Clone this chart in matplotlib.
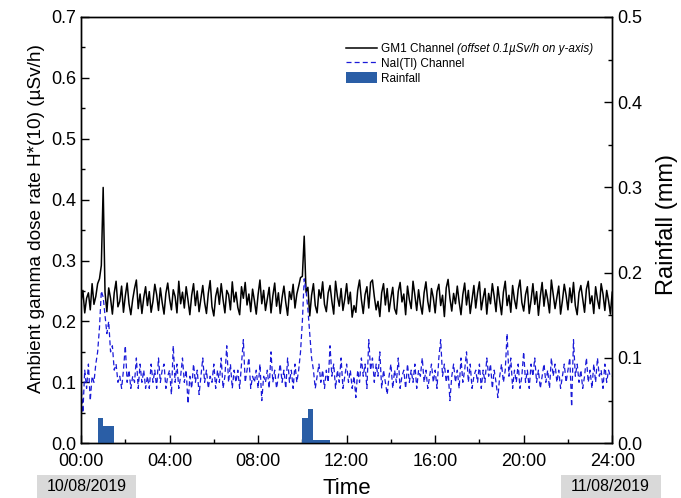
import numpy as np
import matplotlib
matplotlib.use('Agg')
import matplotlib.pyplot as plt
from matplotlib.patches import Rectangle
from matplotlib.ticker import MultipleLocator, FormatStrFormatter

plt.rcParams['font.family'] = ['Liberation Sans', 'DejaVu Sans']

# 5-minute readings, one row per hour (GM1 already offset by 0.1 uSv/h)
gm1 = [
    0.232, 0.251, 0.214, 0.238, 0.247, 0.219, 0.262, 0.228, 0.241, 0.262, 0.270, 0.292,
    0.420, 0.248, 0.216, 0.255, 0.238, 0.212, 0.247, 0.266, 0.224, 0.233, 0.258, 0.215,
    0.242, 0.263, 0.229, 0.211, 0.236, 0.254, 0.268, 0.221, 0.245, 0.213, 0.239, 0.257,
    0.226, 0.249, 0.215, 0.233, 0.261, 0.244, 0.218, 0.255, 0.231, 0.212, 0.246, 0.263,
    0.237, 0.219, 0.252, 0.241, 0.214, 0.266, 0.229, 0.248, 0.222, 0.257, 0.235, 0.211,
    0.243, 0.262, 0.226, 0.250, 0.216, 0.238, 0.259, 0.231, 0.213, 0.246, 0.267, 0.224,
    0.209, 0.241, 0.255, 0.228, 0.262, 0.236, 0.214, 0.251, 0.244, 0.219, 0.265, 0.232,
    0.248, 0.223, 0.211, 0.257, 0.238, 0.264, 0.227, 0.245, 0.216, 0.253, 0.234, 0.212,
    0.244, 0.268, 0.229, 0.251, 0.218, 0.237, 0.256, 0.214, 0.242, 0.263, 0.225, 0.247,
    0.213, 0.239, 0.258, 0.231, 0.210, 0.249, 0.236, 0.261, 0.222, 0.245, 0.258, 0.272,
    0.274, 0.340, 0.248, 0.256, 0.209, 0.243, 0.262, 0.226, 0.214, 0.252, 0.238, 0.265,
    0.228, 0.216, 0.247, 0.259, 0.233, 0.212, 0.266, 0.241, 0.225, 0.254, 0.218, 0.237,
    0.262, 0.229, 0.248, 0.207, 0.226, 0.215, 0.251, 0.268, 0.236, 0.213, 0.244, 0.257,
    0.222, 0.264, 0.268, 0.241, 0.219, 0.233, 0.208, 0.247, 0.262, 0.227, 0.254, 0.216,
    0.238, 0.256, 0.221, 0.212, 0.249, 0.264, 0.232, 0.245, 0.211, 0.258, 0.236, 0.221,
    0.266, 0.243, 0.218, 0.252, 0.228, 0.212, 0.247, 0.265, 0.233, 0.216, 0.254, 0.239,
    0.214, 0.249, 0.261, 0.226, 0.243, 0.208, 0.255, 0.269, 0.238, 0.217, 0.246, 0.229,
    0.258, 0.232, 0.211, 0.244, 0.263, 0.227, 0.251, 0.213, 0.236, 0.259, 0.222, 0.247,
    0.265, 0.219, 0.238, 0.254, 0.212, 0.246, 0.229, 0.262, 0.241, 0.216, 0.257, 0.233,
    0.211, 0.248, 0.266, 0.226, 0.243, 0.215, 0.259, 0.236, 0.221, 0.252, 0.268, 0.231,
    0.217, 0.244, 0.257, 0.213, 0.235, 0.262, 0.228, 0.249, 0.210, 0.241, 0.264, 0.225,
    0.252, 0.236, 0.214, 0.268, 0.245, 0.221, 0.239, 0.258, 0.212, 0.234, 0.261, 0.243,
    0.219, 0.255, 0.231, 0.264, 0.226, 0.211, 0.247, 0.259, 0.237, 0.215, 0.253, 0.266,
    0.229, 0.242, 0.213, 0.257, 0.236, 0.221, 0.262, 0.245, 0.218, 0.251, 0.234, 0.212,
    0.248,
]

nai = [
    0.100, 0.050, 0.120, 0.090, 0.130, 0.070, 0.110, 0.100, 0.130, 0.150, 0.190, 0.250,
    0.240, 0.210, 0.180, 0.200, 0.150, 0.160, 0.120, 0.130, 0.100, 0.110, 0.090, 0.120,
    0.160, 0.100, 0.120, 0.090, 0.110, 0.100, 0.140, 0.090, 0.130, 0.100, 0.120, 0.090,
    0.110, 0.090, 0.130, 0.100, 0.120, 0.090, 0.140, 0.100, 0.120, 0.130, 0.090, 0.110,
    0.120, 0.080, 0.160, 0.100, 0.130, 0.090, 0.110, 0.140, 0.100, 0.120, 0.065, 0.110,
    0.090, 0.130, 0.100, 0.120, 0.080, 0.110, 0.140, 0.100, 0.120, 0.090, 0.110, 0.100,
    0.130, 0.090, 0.120, 0.100, 0.140, 0.090, 0.110, 0.160, 0.100, 0.130, 0.090, 0.120,
    0.100, 0.120, 0.090, 0.130, 0.170, 0.100, 0.120, 0.140, 0.090, 0.110, 0.100, 0.120,
    0.090, 0.130, 0.070, 0.110, 0.100, 0.120, 0.090, 0.150, 0.100, 0.120, 0.090, 0.110,
    0.130, 0.100, 0.120, 0.090, 0.140, 0.100, 0.120, 0.090, 0.130, 0.100, 0.120, 0.150,
    0.200, 0.270, 0.250, 0.220, 0.180, 0.140, 0.120, 0.090, 0.110, 0.130, 0.100, 0.120,
    0.090, 0.120, 0.100, 0.160, 0.110, 0.130, 0.090, 0.120, 0.100, 0.140, 0.090, 0.110,
    0.130, 0.100, 0.120, 0.090, 0.110, 0.075, 0.120, 0.100, 0.140, 0.110, 0.130, 0.090,
    0.170, 0.120, 0.140, 0.100, 0.130, 0.110, 0.150, 0.090, 0.120, 0.100, 0.080, 0.110,
    0.130, 0.090, 0.120, 0.100, 0.140, 0.090, 0.110, 0.120, 0.090, 0.130, 0.100, 0.120,
    0.100, 0.130, 0.090, 0.120, 0.110, 0.140, 0.100, 0.120, 0.090, 0.110, 0.130, 0.100,
    0.120, 0.090, 0.140, 0.170, 0.110, 0.130, 0.100, 0.120, 0.070, 0.110, 0.130, 0.100,
    0.120, 0.090, 0.140, 0.100, 0.120, 0.150, 0.100, 0.130, 0.090, 0.110, 0.120, 0.100,
    0.130, 0.090, 0.120, 0.100, 0.140, 0.110, 0.130, 0.090, 0.120, 0.100, 0.075, 0.110,
    0.130, 0.100, 0.120, 0.180, 0.110, 0.140, 0.090, 0.120, 0.100, 0.130, 0.090, 0.110,
    0.150, 0.100, 0.120, 0.090, 0.130, 0.110, 0.140, 0.100, 0.120, 0.090, 0.110, 0.130,
    0.100, 0.120, 0.090, 0.140, 0.110, 0.130, 0.100, 0.120, 0.090, 0.110, 0.130, 0.100,
    0.120, 0.140, 0.060, 0.170, 0.110, 0.130, 0.100, 0.120, 0.090, 0.110, 0.140, 0.100,
    0.120, 0.090, 0.130, 0.100, 0.140, 0.110, 0.120, 0.090, 0.130, 0.100, 0.120, 0.110,
    0.110,
]

# rainfall per 15-minute interval (start hour, mm)
rain_start = [0.75, 1.0, 1.25, 10.0, 10.25, 10.5, 10.75, 11.0]
rain_mm = [0.030, 0.020, 0.020, 0.030, 0.040, 0.004, 0.004, 0.004]
rain_width = 0.25

dates = ['10/08/2019', '11/08/2019']


def main():
    hours = np.arange(len(gm1)) * 5.0 / 60.0

    fig = plt.figure(figsize=(6.81, 4.98), dpi=100)
    ax = fig.add_axes([0.119, 0.110, 0.780, 0.856])
    ax2 = ax.twinx()

    l1, = ax.plot(hours, gm1, color='black', lw=1.1, label='GM1 Channel')
    l2, = ax.plot(hours, nai, color='#1a1ad8', lw=0.9, ls=(0, (4, 2.5)),
                  label='NaI(Tl) Channel')
    bars = ax2.bar(rain_start, rain_mm, width=rain_width, align='edge',
                   color='#2a5ea6', label='Rainfall')

    ax.set_xlim(0, 24)
    ax.set_ylim(0, 0.7)
    ax2.set_ylim(0, 0.5)
    ax.set_xticks(np.arange(0, 25, 4))
    ax.set_xticklabels(['{:02d}:00'.format(h) for h in range(0, 25, 4)])
    ax.xaxis.set_minor_locator(MultipleLocator(2))
    for a in (ax, ax2):
        a.yaxis.set_major_locator(MultipleLocator(0.1))
        a.yaxis.set_minor_locator(MultipleLocator(0.05))
        a.yaxis.set_major_formatter(FormatStrFormatter('%.1f'))
        a.tick_params(which='both', direction='in', labelsize=13, width=1)
        a.tick_params(which='major', length=6)
        a.tick_params(which='minor', length=3)
        for s in a.spines.values():
            s.set_linewidth(1.0)
    ax.tick_params(top=False, right=False)
    ax.tick_params(axis='x', pad=7)

    ax.set_ylabel('Ambient gamma dose rate H*(10) (\u00b5Sv/h)', fontsize=13.7,
                  labelpad=4)
    ax.yaxis.label.set_y(0.528)
    ax2.set_ylabel('Rainfall (mm)', fontsize=17, labelpad=10)
    ax2.yaxis.label.set_y(0.512)
    ax.set_xlabel('Time', fontsize=16, labelpad=6)

    leg = ax.legend(handles=[l1, l2, bars], loc='upper left',
                    bbox_to_anchor=(0.49, 0.95), frameon=False, fontsize=8.5,
                    handlelength=2.6, handleheight=1.0, handletextpad=0.4,
                    labelspacing=0.2, borderaxespad=0)

    # italic note after the GM1 legend entry
    fig.canvas.draw()
    bb = leg.get_texts()[0].get_window_extent()
    x0, y0 = fig.transFigure.inverted().transform((bb.x1, (bb.y0 + bb.y1) / 2))
    fig.text(x0 + 0.004, y0, '(offset 0.1\u00b5Sv/h on y-axis)', fontsize=8.4,
             style='italic', va='center', ha='left')

    # grey date boxes under the first and last ticks
    for xl, xc, d in zip([0.054, 0.824], [0.127, 0.896], dates):
        fig.patches.append(Rectangle((xl, 0.0), 0.146, 0.046, fc='#d9d9d9',
                                     ec='none', transform=fig.transFigure,
                                     figure=fig))
        fig.text(xc, 0.024, d, fontsize=11.5, ha='center', va='center')

    fig.savefig('out.png', dpi=100)


if __name__ == '__main__':
    main()
